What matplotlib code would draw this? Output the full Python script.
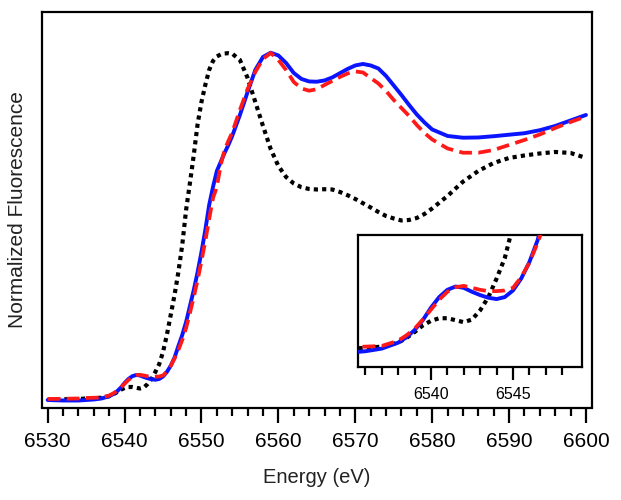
import numpy as np
import matplotlib
matplotlib.use("Agg")
import matplotlib.pyplot as plt

plt.rcParams['font.family'] = ['Liberation Sans', 'DejaVu Sans']

energy = [6530, 6532, 6534, 6535, 6536, 6537, 6538, 6538.5, 6539, 6539.5,
          6540, 6540.5, 6541, 6541.5, 6542, 6542.5, 6543, 6543.5, 6544, 6544.5,
          6545, 6545.5, 6546, 6546.5, 6547, 6547.5, 6548, 6548.5, 6549, 6549.5,
          6550, 6550.5, 6551, 6551.5, 6552, 6552.5, 6553, 6553.5, 6554, 6555,
          6556, 6557, 6558, 6559, 6560, 6561, 6562, 6563, 6564, 6565,
          6566, 6567, 6568, 6569, 6570, 6571, 6572, 6573, 6574, 6575,
          6576, 6577, 6578, 6579, 6580, 6582, 6584, 6586, 6588, 6590,
          6592, 6594, 6596, 6598, 6600]

blue = [0.000, -0.002, -0.002, 0.000, 0.002, 0.006, 0.015, 0.023, 0.034, 0.049,
        0.068, 0.084, 0.095, 0.100, 0.098, 0.092, 0.087, 0.083, 0.081, 0.084,
        0.094, 0.112, 0.137, 0.170, 0.216, 0.260, 0.312, 0.376, 0.440, 0.512,
        0.592, 0.680, 0.780, 0.852, 0.916, 0.952, 0.988, 1.020, 1.056, 1.140,
        1.232, 1.320, 1.372, 1.389, 1.378, 1.348, 1.308, 1.284, 1.274, 1.273,
        1.278, 1.290, 1.307, 1.324, 1.338, 1.344, 1.338, 1.326, 1.296, 1.258,
        1.220, 1.180, 1.142, 1.110, 1.082, 1.056, 1.049, 1.050, 1.055, 1.061,
        1.067, 1.079, 1.096, 1.118, 1.140]

red = [0.004, 0.005, 0.006, 0.008, 0.009, 0.010, 0.018, 0.026, 0.036, 0.050,
       0.065, 0.080, 0.092, 0.099, 0.101, 0.098, 0.095, 0.093, 0.093, 0.094,
       0.098, 0.114, 0.136, 0.166, 0.200, 0.240, 0.288, 0.348, 0.412, 0.480,
       0.556, 0.636, 0.724, 0.808, 0.852, 0.940, 1.000, 1.036, 1.070, 1.160,
       1.244, 1.312, 1.364, 1.388, 1.360, 1.320, 1.272, 1.246, 1.237, 1.243,
       1.260, 1.276, 1.292, 1.306, 1.314, 1.310, 1.288, 1.266, 1.236, 1.200,
       1.168, 1.136, 1.100, 1.068, 1.042, 1.006, 0.989, 0.989, 1.000, 1.020,
       1.040, 1.062, 1.088, 1.112, 1.134]

black = [0.002, 0.003, 0.004, 0.006, 0.007, 0.009, 0.015, 0.022, 0.031, 0.041,
         0.048, 0.052, 0.052, 0.049, 0.046, 0.050, 0.064, 0.084, 0.112, 0.143,
         0.192, 0.260, 0.340, 0.420, 0.512, 0.620, 0.760, 0.868, 0.980, 1.104,
         1.192, 1.260, 1.320, 1.356, 1.374, 1.382, 1.386, 1.387, 1.385, 1.360,
         1.288, 1.192, 1.096, 1.004, 0.936, 0.892, 0.866, 0.851, 0.844, 0.842,
         0.843, 0.842, 0.832, 0.819, 0.804, 0.787, 0.770, 0.752, 0.736, 0.726,
         0.718, 0.720, 0.728, 0.744, 0.766, 0.816, 0.873, 0.916, 0.948, 0.968,
         0.978, 0.986, 0.992, 0.988, 0.968]

main_xticks = [6530, 6540, 6550, 6560, 6570, 6580, 6590, 6600]
inset_xticks = [6540, 6545]

fig = plt.figure(figsize=(6.21, 5.0), dpi=100)
ax = fig.add_axes([0.0671, 0.185, 0.8870, 0.7916])

E = np.array(energy)
styles = [
    (np.array(black), dict(color='black', lw=3.0, linestyle=(0, (1.0, 1.0)), zorder=2)),
    (np.array(blue), dict(color='#0a14ff', lw=2.8, linestyle='-', zorder=3)),
    (np.array(red), dict(color='#ff1a1a', lw=2.7, linestyle=(0, (3.4, 1.7)), zorder=4)),
]
for y, st in styles:
    ax.plot(E, y, solid_capstyle='round', **st)

ax.set_xlim(6529.22, 6600.85)
ax.set_ylim(-0.030, 1.553)
ax.set_xticks(main_xticks)
ax.set_xticks(np.arange(6530, 6601, 2), minor=True)
ax.set_yticks([])
ax.tick_params(axis='x', which='major', direction='out', length=10.8, width=1.6,
               labelsize=15, pad=7)
ax.tick_params(axis='x', which='minor', direction='out', length=5.8, width=1.6)
for s in ax.spines.values():
    s.set_linewidth(1.6)
ax.set_xlabel('Energy (eV)', fontsize=14.5, labelpad=12, color='#222222')
ax.set_ylabel('Normalized Fluorescence', fontsize=15, color='#222222')
ax.yaxis.set_label_coords(-0.026, 0.5)

# inset
axi = fig.add_axes([0.577, 0.2666, 0.3597, 0.2634])
for y, st in styles:
    axi.plot(E, y, solid_capstyle='butt', **st)
axi.set_xlim(6535.57, 6549.19)
axi.set_ylim(-0.0214, 0.178)
axi.set_xticks(inset_xticks)
axi.set_xticks(np.arange(6536, 6549, 1), minor=True)
axi.set_yticks([])
axi.tick_params(axis='x', which='major', direction='out', length=9.5, width=1.6,
                labelsize=11.5, pad=5)
axi.tick_params(axis='x', which='minor', direction='out', length=6, width=1.6)
for s in axi.spines.values():
    s.set_linewidth(1.6)

fig.savefig('out.png', dpi=100)
